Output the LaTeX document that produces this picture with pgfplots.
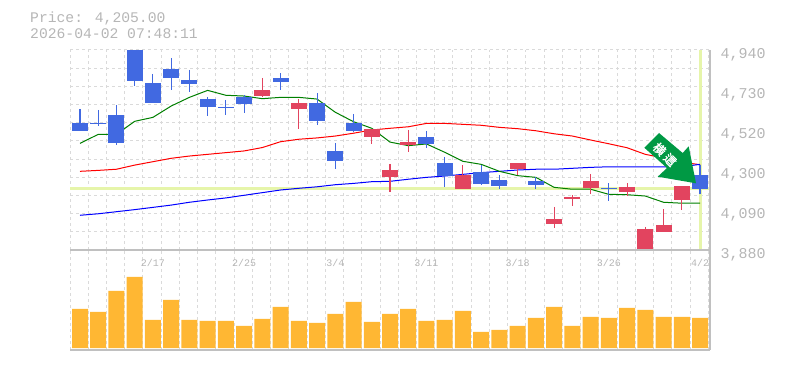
\documentclass[border=0pt]{standalone}
\usepackage{pgfplots}
\pgfplotsset{compat=1.18}
\usepackage{fontspec}
\setmainfont{Liberation Mono}
\newfontfamily\cjk{Noto Sans CJK JP}[FakeBold=2]
\definecolor{gridc}{HTML}{DADADA}
\definecolor{axc}{HTML}{C0C0C0}
\definecolor{txt}{HTML}{B6B6B6}
\definecolor{upc}{HTML}{E2445F}
\definecolor{dnc}{HTML}{4169E1}
\definecolor{lime}{HTML}{E6F5AA}
\definecolor{volc}{HTML}{FFB733}
\definecolor{arr}{HTML}{009944}
\definecolor{magr}{HTML}{007F00}
\pgfplotsset{
  base/.style={
    scale only axis, width=640pt, xmin=-0.5484, xmax=34.5484,
    axis line style={draw=none}, tick style={draw=none},
    clip=true, xtick={-0.5484,0.4516,...,34.6},
    xticklabels={}, grid style={gridc,line width=1pt,dash pattern=on 3pt off 3pt},
  },
  wick/.style={line width=1.1pt, unbounded coords=jump, no markers, line cap=butt},
  body/.style={line width=16pt, unbounded coords=jump, no markers, line cap=butt},
}
\begin{document}
\begin{tikzpicture}[x=1pt,y=1pt]
\path[use as bounding box] (0,0) rectangle (785,370);
% volume panel
\begin{axis}[base, at={(70pt,20pt)}, anchor=south west, height=100pt,
  ymin=-2, ymax=98, ytick=\empty, xmajorgrids]
\addplot[ybar, bar width=16pt, fill=volc, draw=none, bar shift=0pt] coordinates {
(0,39)(1,36)(2,57)(3,71)(4,28)(5,48)(6,28)(7,27)(8,27)(9,22)(10,29)(11,41)
(12,27)(13,25)(14,34)(15,46)(16,26)(17,34)(18,39)(19,27)(20,28)(21,37)(22,16)
(23,18)(24,22)(25,30)(26,41)(27,22)(28,31)(29,30)(30,40)(31,38)(32,31)(33,31)(34,30)};
\end{axis}
% price panel
\begin{axis}[base, at={(70pt,120pt)}, anchor=south west, height=200pt,
  ymin=3880, ymax=4940,
  ytick={3880,3976.36,4072.73,4169.09,4265.45,4361.82,4458.18,4554.55,4650.91,4747.27,4843.64,4940},
  yticklabels={}, xmajorgrids, ymajorgrids,
  extra y ticks={4940,4728,4516,4304,4092,3880},
  extra y tick labels={{4,940},{4,730},{4,520},{4,300},{4,090},{3,880}},
  extra y tick style={grid=none, yticklabel pos=right, tick label style={font=\fontsize{15}{15}\selectfont, text=txt, anchor=west, xshift=7pt, yshift=-5pt}},
  extra x ticks={4,9,14,19,24,29,34},
  extra x tick labels={2/17,2/25,3/4,3/11,3/18,3/26,4/2},
  extra x tick style={grid=none, tick label style={font=\fontsize{10}{10}\selectfont, text=txt, yshift=-6pt}},
]
% reference lines for the last price and the last day
\addplot[lime, line width=3.5pt, no markers] coordinates {(-0.5484,4205)(34.5484,4205)};
\addplot[lime, line width=3pt, no markers] coordinates {(34,4940)(34,3885)};
% moving averages, under the candles
\addplot[red, line width=1pt, no markers] coordinates {
(0,4297)(1,4302)(2,4308)(3,4330)(4,4348)(5,4366)(6,4378)(7,4387)(8,4396)(9,4405)(10,4423)
(11,4454)(12,4467)(13,4474)(14,4484)(15,4499)(16,4516)(17,4525)(18,4533)(19,4551)(20,4551)
(21,4546)(22,4541)(23,4530)(24,4523)(25,4512)(26,4496)(27,4484)(28,4463)(29,4443)(30,4422)
(31,4387)(32,4368)(33,4346)(34,4332)};
\addplot[blue, line width=1pt, no markers] coordinates {
(0,4064)(1,4072)(2,4083)(3,4094)(4,4106)(5,4118)(6,4133)(7,4145)(8,4156)(9,4170)(10,4184)
(11,4198)(12,4207)(13,4215)(14,4226)(15,4233)(16,4242)(17,4244)(18,4255)(19,4265)(20,4272)
(21,4281)(22,4290)(23,4297)(24,4304)(25,4308)(26,4308)(27,4313)(28,4318)(29,4321)(30,4321)
(31,4321)(32,4321)(33,4321)(34,4334)};
\addplot[magr, line width=1pt, no markers] coordinates {
(0,4445)(1,4493)(2,4493)(3,4562)(4,4583)(5,4643)(6,4689)(7,4726)(8,4700)(9,4696)(10,4682)
(11,4689)(12,4689)(13,4680)(14,4610)(15,4560)(16,4525)(17,4452)(18,4433)(19,4442)(20,4398)
(21,4350)(22,4334)(23,4297)(24,4274)(25,4265)(26,4212)(27,4202)(28,4202)(29,4175)(30,4173)
(31,4166)(32,4133)(33,4128)(34,4128)};
% wicks
\addplot[dnc, wick] coordinates {
(0,4627)(0,4511)(0,nan)(1,4622)(1,4539)(1,nan)(2,4648)(2,4436)(2,nan)(3,4940)(3,4749)(3,nan)
(4,4813)(4,4659)(4,nan)(5,4898)(5,4728)(5,nan)(6,4834)(6,4717)(6,nan)(7,4691)(7,4590)(7,nan)
(8,4675)(8,4596)(8,nan)(9,4701)(9,4606)(9,nan)(11,4818)(11,4728)(11,nan)(13,4712)(13,4542)(13,nan)
(14,4447)(14,4309)(14,nan)(15,4601)(15,4505)(15,nan)(19,4511)(19,4421)(19,nan)
(20,4373)(20,4214)(20,nan)(22,4330)(22,4225)(22,nan)(23,4277)(23,4203)(23,nan)
(25,4267)(25,4203)(25,nan)(29,4235)(29,4140)(29,nan)(34,4330)(34,4177)};
\addplot[upc, wick] coordinates {
(10,4792)(10,4691)(10,nan)(12,4680)(12,4521)(12,nan)(16,4521)(16,4442)(16,nan)
(17,4336)(17,4187)(17,nan)(18,4516)(18,4399)(18,nan)(21,4330)(21,4203)(21,nan)
(24,4341)(24,4277)(24,nan)(26,4108)(26,3997)(26,nan)(27,4171)(27,4113)(27,nan)
(28,4283)(28,4177)(28,nan)(30,4235)(30,4166)(30,nan)(31,4002)(31,3880)(31,nan)
(32,4097)(32,3975)(32,nan)(33,4219)(33,4092)};
% bodies
\addplot[dnc, body] coordinates {
(0,4553)(0,4511)(0,nan)(1,4553)(1,4548)(1,nan)(2,4595)(2,4447)(2,nan)(3,4940)(3,4776)(3,nan)
(4,4765)(4,4659)(4,nan)(5,4839)(5,4792)(5,nan)(6,4781)(6,4760)(6,nan)(7,4680)(7,4638)(7,nan)
(8,4638)(8,4633)(8,nan)(9,4691)(9,4654)(9,nan)(11,4792)(11,4770)(11,nan)(13,4659)(13,4564)(13,nan)
(14,4405)(14,4352)(14,nan)(15,4553)(15,4511)(15,nan)(19,4479)(19,4442)(19,nan)
(20,4341)(20,4272)(20,nan)(22,4293)(22,4230)(22,nan)(23,4251)(23,4219)(23,nan)
(25,4246)(25,4224)(25,nan)(29,4209)(29,4203)(29,nan)(34,4277)(34,4203)};
\addplot[upc, body] coordinates {
(10,4728)(10,4696)(10,nan)(12,4659)(12,4627)(12,nan)(16,4521)(16,4479)(16,nan)
(17,4304)(17,4267)(17,nan)(18,4452)(18,4435)(18,nan)(21,4277)(21,4203)(21,nan)
(24,4341)(24,4309)(24,nan)(26,4044)(26,4018)(26,nan)(27,4161)(27,4150)(27,nan)
(28,4246)(28,4209)(28,nan)(30,4214)(30,4187)(30,nan)(31,3991)(31,3880)(31,nan)
(32,4012)(32,3975)(32,nan)(33,4219)(33,4145)};
\end{axis}
% frame lines
\draw[axc, line width=1.1pt] (70,120) -- (710,120);
\draw[axc, line width=1.4pt] (70,20) -- (710,20);
\draw[axc, line width=1.1pt] (710,320) -- (710,20);
% title
\node[anchor=west, text=txt, font=\fontsize{14.7}{14.7}\selectfont, inner sep=0pt] at (30,351.5) {Price: 4,205.00};
\node[anchor=west, text=txt, font=\fontsize{14.7}{14.7}\selectfont, inner sep=0pt] at (30,336.5) {2026-04-02 07:48:11};
% arrow annotation
\fill[arr] (659,237) -- (644.3,222.3) -- (667,202) -- (657.7,193.3) -- (696,186.7) -- (688.7,223.7) -- (682.7,217) -- cycle;
\node[text=white, rotate=-45, font=\cjk\fontsize{12}{12}\selectfont, inner sep=0pt] at (664.8,215.5) {横\kern3pt 這};
\end{tikzpicture}
\end{document}
